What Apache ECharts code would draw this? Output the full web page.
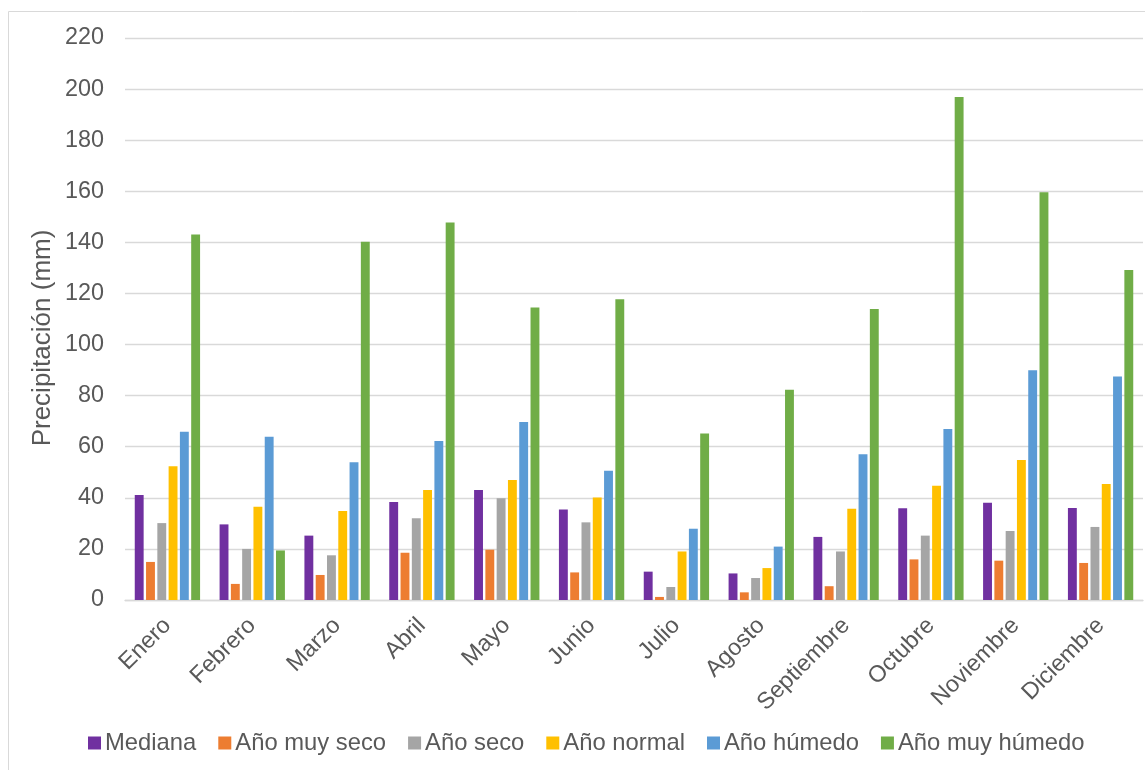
<!DOCTYPE html>
<html>
<head>
<meta charset="utf-8">
<script src="https://cdn.jsdelivr.net/npm/echarts@6/dist/echarts.min.js"></script>
<style>
html,body{margin:0;padding:0;background:#fff;}
#chart{width:1145px;height:770px;}
</style>
</head>
<body>
<div id="chart"></div>
<script>
const months = ["Enero","Febrero","Marzo","Abril","Mayo","Junio","Julio","Agosto","Septiembre","Octubre","Noviembre","Diciembre"];
const yTicks = [0,20,40,60,80,100,120,140,160,180,200,220];
const mediana      = [41.1, 29.6, 25.2, 38.4, 43.1, 35.4, 11.1, 10.4, 24.7, 35.9, 38.1, 36.0];
const anoMuySeco   = [14.9,  6.3,  9.8, 18.5, 19.7, 10.8,  1.2,  3.0,  5.4, 15.9, 15.4, 14.5];
const anoSeco      = [30.1, 20.0, 17.5, 32.0, 39.8, 30.4,  5.1,  8.6, 19.0, 25.2, 27.0, 28.6];
const anoNormal    = [52.4, 36.5, 34.8, 43.1, 47.0, 40.1, 19.0, 12.5, 35.7, 44.7, 54.8, 45.4];
const anoHumedo    = [65.9, 63.9, 53.9, 62.2, 69.7, 50.6, 27.9, 20.9, 57.1, 66.9, 89.9, 87.5];
const anoMuyHumedo = [143.1, 19.4, 140.2, 147.8, 114.5, 117.7, 65.2, 82.3, 113.9, 196.9, 159.6, 129.2];

const seriesNames = ["Mediana","Año muy seco","Año seco","Año normal","Año húmedo","Año muy húmedo"];
const seriesData = [mediana, anoMuySeco, anoSeco, anoNormal, anoHumedo, anoMuyHumedo];
const colors = ["#7030A0","#ED7D31","#A5A5A5","#FFC000","#5B9BD5","#70AD47"];

const FONT = "'Liberation Sans', Arial, sans-serif";
const chart = echarts.init(document.getElementById('chart'));
chart.setOption({
  animation: false,
  color: colors,
  textStyle: { fontFamily: FONT },
  grid: { left: 125, right: 2, top: 38, bottom: 170, containLabel: false },
  legend: {
    data: seriesNames,
    left: 88,
    top: 731,
    padding: 0,
    itemWidth: 13,
    itemHeight: 13,
    itemGap: 22,
    icon: 'rect',
    textStyle: { fontSize: 23.8, color: '#595959', fontFamily: FONT, padding: [0,0,0,-1] }
  },
  xAxis: {
    type: 'category',
    data: months,
    axisTick: { show: false },
    axisLine: { lineStyle: { color: '#D9D9D9', width: 1.3 } },
    axisLabel: { rotate: 45, fontSize: 23.4, color: '#595959', margin: 22, interval: 0, fontFamily: FONT }
  },
  yAxis: {
    type: 'value',
    min: yTicks[0],
    max: yTicks[yTicks.length - 1],
    interval: yTicks[1] - yTicks[0],
    axisLine: { show: false },
    axisTick: { show: false },
    splitLine: { lineStyle: { color: '#D9D9D9', width: 1.3 } },
    axisLabel: { fontSize: 23.4, color: '#595959', margin: 21, fontFamily: FONT }
  },
  graphic: [
    { type: 'rect', shape: { x: 8.5, y: 11.5, width: 1300, height: 900 }, style: { fill: 'none', stroke: '#D9D9D9', lineWidth: 1 }, z: -10, silent: true },
    { type: 'text', x: 43, y: 338, rotation: Math.PI / 2,
      style: { text: 'Precipitación (mm)', fontSize: 26, fill: '#595959', fontFamily: FONT, align: 'center', verticalAlign: 'middle' } }
  ],
  series: seriesNames.map((name, i) => ({
    name: name,
    type: 'bar',
    data: seriesData[i],
    barGap: '27%',
    barCategoryGap: '23%',
    itemStyle: { color: colors[i] }
  }))
});
</script>
</body>
</html>
